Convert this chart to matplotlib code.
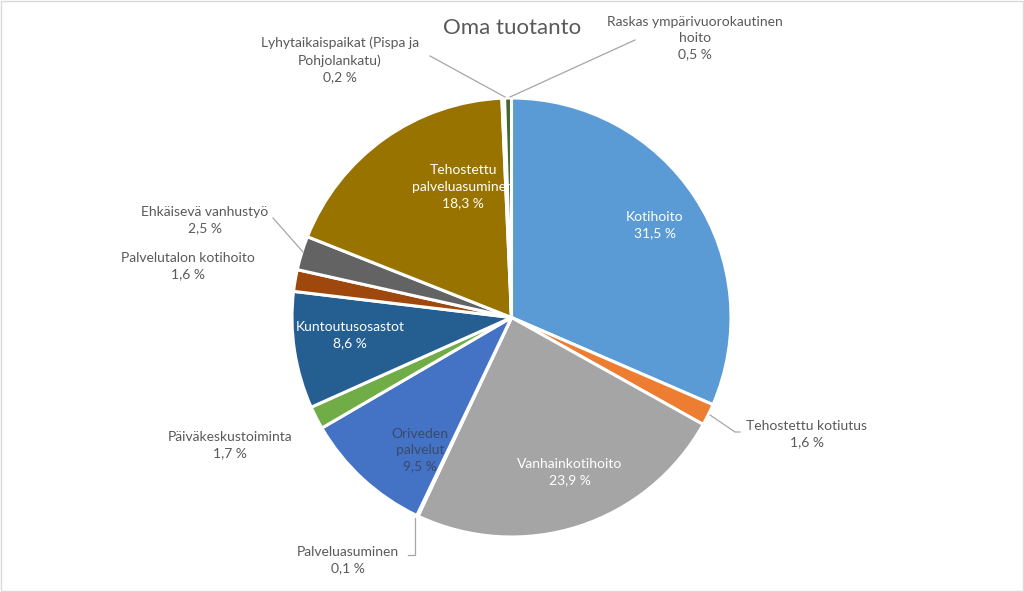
import matplotlib
matplotlib.use("Agg")
import matplotlib.pyplot as plt
import numpy as np

plt.rcParams['font.family'] = ['Lato', 'DejaVu Sans']

# data
labels = ["Kotihoito", "Tehostettu kotiutus", "Vanhainkotihoito", "Palveluasuminen",
          "Oriveden\npalvelut", "Päiväkeskustoiminta", "Kuntoutusosastot",
          "Palvelutalon kotihoito", "Ehkäisevä vanhustyö", "Tehostettu\npalveluasuminen",
          "Lyhytaikaispaikat (Pispa ja\nPohjolankatu)", "Raskas ympärivuorokautinen\nhoito"]
values = [31.5, 1.6, 23.9, 0.1, 9.5, 1.7, 8.6, 1.6, 2.5, 18.3, 0.2, 0.5]
colors = ["#5B9BD5", "#ED7D31", "#A5A5A5", "#FFC000", "#4472C4", "#70AD47",
          "#255E91", "#9E480E", "#636363", "#997300", "#264478", "#43682B"]

# label placement in pixel coords of the figure (x, y from top), and leader lines
lab_px = [(655, 225), (807, 434), (570, 472), (348, 560), (420, 450), (230, 445),
          (350, 335), (188, 266), (205, 220), (463, 187), (340, 60), (695, 38)]
lab_col = ["white", "#595959", "white", "#595959", "#3A4A6B", "#595959",
           "white", "#595959", "#595959", "white", "#595959", "#595959"]
leaders = {
    1: [(740, 432), (735, 432), (710, 415)],
    3: [(408, 555), (415, 555), (415, 518)],
    8: [(273, 218), (303, 252)],
    10: [(430, 56), (505, 97)],
    11: [(635, 40), (510, 97)],
}

W, H = 1024, 592
cx, cy, r = 511.5, 317.5, 219.5

def to_data(p):
    return ((p[0] - cx) / r, (cy - p[1]) / r)

fig = plt.figure(figsize=(W / 100, H / 100), dpi=100)
ax = fig.add_axes([(cx - r) / W, (H - cy - r) / H, 2 * r / W, 2 * r / H])
ax.pie(values, colors=colors, startangle=90, counterclock=False, radius=1,
       wedgeprops=dict(edgecolor="white", linewidth=2.2))
ax.set_xlim(-1, 1)
ax.set_ylim(-1, 1)
ax.set_aspect("equal")
ax.axis("off")

for i, (lab, v) in enumerate(zip(labels, values)):
    x, y = to_data(lab_px[i])
    txt = f"{lab}\n{v:.1f} %".replace(".", ",")
    ax.text(x, y, txt, ha="center", va="center", fontsize=10, color=lab_col[i],
            linespacing=1.45, clip_on=False)

for i, pts in leaders.items():
    d = np.array([to_data(p) for p in pts])
    ax.plot(d[:, 0], d[:, 1], color="#A6A6A6", lw=0.9, clip_on=False)

fig.text(0.5, 1 - 28 / H, "Oma tuotanto", ha="center", va="center",
         fontsize=16, color="#595959")

fig.patches.append(plt.Rectangle((0.001, 0.001), 0.998, 0.997, transform=fig.transFigure,
                                 fill=False, edgecolor="#D9D9D9", lw=1))
fig.savefig("out.png", dpi=100, facecolor="white")
